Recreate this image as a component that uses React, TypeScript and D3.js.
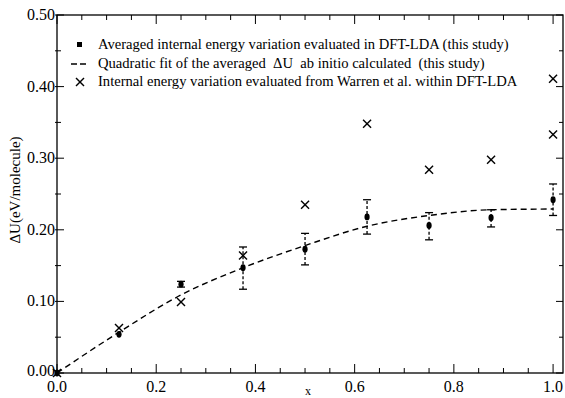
import React from "react";
import * as d3 from "d3";

const xs = [0, 0.125, 0.25, 0.375, 0.5, 0.625, 0.75, 0.875, 1.0];
const avgU = [0, 0.054, 0.124, 0.147, 0.173, 0.218, 0.206, 0.217, 0.242];
const errLo = [0, 0.054, 0.12, 0.117, 0.151, 0.194, 0.186, 0.204, 0.22];
const errHi = [0, 0.054, 0.128, 0.176, 0.195, 0.242, 0.224, 0.228, 0.264];
const fitU = [0, 0.057, 0.109, 0.147, 0.178, 0.205, 0.22, 0.228, 0.229];
const warrenX = [0, 0.125, 0.25, 0.375, 0.5, 0.625, 0.75, 0.875, 1.0, 1.0];
const warrenU = [0, 0.063, 0.099, 0.164, 0.235, 0.348, 0.284, 0.298, 0.411, 0.333];
const xTicks = [0, 0.2, 0.4, 0.6, 0.8, 1.0];
const yTicks = [0, 0.1, 0.2, 0.3, 0.4, 0.5];
const legendLabels = [
  "Averaged internal energy variation evaluated in DFT-LDA (this study)",
  "Quadratic fit of the averaged  \u0394U  ab initio calculated  (this study)",
  "Internal energy variation evaluated from Warren et al. within DFT-LDA",
];

const W = 565, H = 398;
const L = 57, R = 563, T = 15, B = 373;
const FONT = "Liberation Serif, DejaVu Serif, serif";

export default function App() {
  const x = d3.scaleLinear().domain([0, 1.02]).range([L, R]);
  const y = d3.scaleLinear().domain([0, 0.5]).range([B, T]);
  const xMinor = d3.range(0, 1.0001, 0.05);
  const yMinor = d3.range(0, 0.5001, 0.05);
  const isMajor = (v: number, step: number) => Math.abs(v / step - Math.round(v / step)) < 1e-6;

  const line = d3
    .line<number>()
    .x((_, i) => x(xs[i]))
    .y((d) => y(d))
    .curve(d3.curveMonotoneX);

  const crossSize = 4;
  const cross = (cx: number, cy: number, key: string) => (
    <g key={key} stroke="#000" strokeWidth={1.4}>
      <line x1={cx - crossSize} y1={cy - crossSize} x2={cx + crossSize} y2={cy + crossSize} />
      <line x1={cx - crossSize} y1={cy + crossSize} x2={cx + crossSize} y2={cy - crossSize} />
    </g>
  );
  const ts = { fontFamily: FONT };

  return (
    <svg
      width={W}
      height={H}
      style={{ position: "absolute", left: 0, top: 0, background: "#fff", fontFamily: FONT }}
    >
      <rect x={L} y={T} width={R - L} height={B - T} fill="none" stroke="#000" strokeWidth={1.3} />
      {xMinor.map((v, i) => {
        const mj = isMajor(v, 0.2);
        const len = mj ? 9 : 5;
        return (
          <g key={"xt" + i} stroke="#000" strokeWidth={1}>
            <line x1={x(v)} x2={x(v)} y1={B} y2={B - len} />
            <line x1={x(v)} x2={x(v)} y1={T} y2={T + len} />
          </g>
        );
      })}
      {yMinor.map((v, i) => {
        const mj = isMajor(v, 0.1);
        const len = mj ? 7 : 4;
        return (
          <g key={"yt" + i} stroke="#000" strokeWidth={1}>
            <line x1={L - 2} x2={L + len} y1={y(v)} y2={y(v)} />
            <line x1={R} x2={R - len} y1={y(v)} y2={y(v)} />
          </g>
        );
      })}
      {xTicks.map((v, i) => (
        <text key={"xl" + i} x={x(v)} y={392} fontSize={16} textAnchor="middle" style={ts}>
          {v.toFixed(1)}
        </text>
      ))}
      {yTicks.map((v, i) => (
        <text key={"yl" + i} x={L - 2} y={y(v) + (i === 0 ? 3 : 5)} fontSize={16} textAnchor="end" style={ts}>
          {v.toFixed(2)}
        </text>
      ))}
      <text x={308} y={395} fontSize={12} textAnchor="middle" style={ts}>x</text>
      <text
        transform={`translate(20,${190}) rotate(-90)`}
        fontSize={15}
        textAnchor="middle"
        style={ts}
      >
        {"\u0394U(eV/molecule)"}
      </text>

      <path d={line(fitU) || ""} fill="none" stroke="#000" strokeWidth={1.4} strokeDasharray="6,4" />

      {xs.map((v, i) => {
        const cx = x(v);
        const hasErr = errHi[i] - errLo[i] > 0.001;
        return (
          <g key={"a" + i}>
            {hasErr && (
              <g stroke="#000" strokeWidth={1.3}>
                <line x1={cx} x2={cx} y1={y(errLo[i])} y2={y(errHi[i])} strokeDasharray="3,2" />
                <line x1={cx - 4} x2={cx + 4} y1={y(errLo[i])} y2={y(errLo[i])} />
                <line x1={cx - 4} x2={cx + 4} y1={y(errHi[i])} y2={y(errHi[i])} />
              </g>
            )}
            <ellipse cx={cx} cy={y(avgU[i])} rx={2.6} ry={3.4} fill="#000" />
          </g>
        );
      })}

      {warrenX.map((v, i) => cross(x(v), y(warrenU[i]), "w" + i))}

      <g>
        <rect x={77} y={42} width={5} height={5} fill="#000" />
        <line x1={71} x2={89} y1={64} y2={64} stroke="#000" strokeWidth={1.3} strokeDasharray="6,3" />
        {cross(80, 82, "lc")}
        {legendLabels.map((t, i) => (
          <text key={"lg" + i} x={98} y={49 + i * 18.5} fontSize={14.6} style={{ ...ts, whiteSpace: "pre" }}>
            {t}
          </text>
        ))}
      </g>
    </svg>
  );
}
